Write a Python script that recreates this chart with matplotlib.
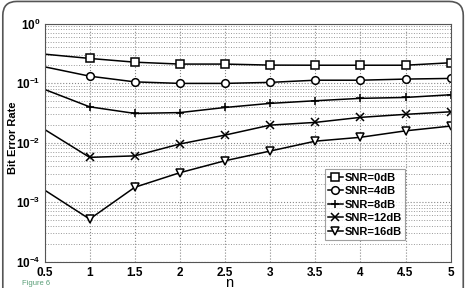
import matplotlib
matplotlib.use("Agg")
import matplotlib.pyplot as plt
from matplotlib.patches import FancyBboxPatch
from matplotlib.ticker import LogLocator, FixedLocator, NullFormatter, FuncFormatter
import math

n = [0.5, 1, 1.5, 2, 2.5, 3, 3.5, 4, 4.5, 5]
ber_0db = [0.307, 0.26, 0.225, 0.209, 0.209, 0.201, 0.200, 0.200, 0.200, 0.22]
ber_4db = [0.188, 0.131, 0.105, 0.099, 0.099, 0.103, 0.112, 0.112, 0.117, 0.120]
ber_8db = [0.0785, 0.040, 0.031, 0.032, 0.039, 0.0457, 0.0506, 0.0555, 0.0575, 0.0638]
ber_12db = [0.0167, 0.00566, 0.0060, 0.0095, 0.0134, 0.0197, 0.0219, 0.0266, 0.0299, 0.033]
ber_16db = [0.0016, 0.00052, 0.00178, 0.00313, 0.00497, 0.00723, 0.0106, 0.0123, 0.0158, 0.019]
labels = ["SNR=0dB", "SNR=4dB", "SNR=8dB", "SNR=12dB", "SNR=16dB"]
markers = ["s", "o", "+", "x", "v"]
xticks = [0.5, 1, 1.5, 2, 2.5, 3, 3.5, 4, 4.5, 5]

plt.rcParams['font.family'] = ['Liberation Sans', 'DejaVu Sans']
plt.rcParams['mathtext.fontset'] = 'custom'
plt.rcParams['mathtext.rm'] = 'Liberation Sans'
plt.rcParams['mathtext.bf'] = 'Liberation Sans:bold'

fig = plt.figure(figsize=(4.67, 2.88), dpi=100)
frame = FancyBboxPatch((0.006, -0.05), 0.986, 1.045, boxstyle="round,pad=0,rounding_size=0.03",
                       transform=fig.transFigure, fill=False, edgecolor="#555555", linewidth=1.2,
                       mutation_aspect=467/288)
fig.patches.append(frame)

ax = fig.add_axes([0.0953, 0.0913, 0.8697, 0.8267])
series = [ber_0db, ber_4db, ber_8db, ber_12db, ber_16db]
for ys, lab, mk in zip(series, labels, markers):
    ax.plot(n, ys, color="black", linewidth=1.1, marker=mk, markersize=5.5,
            markerfacecolor="white", markeredgecolor="black", markeredgewidth=1.1,
            markevery=list(range(1, len(n))), label=lab)

ax.set_yscale("log")
ax.set_ylim(1e-4, 1)
ax.set_xlim(0.5, 5)
ax.xaxis.set_major_locator(FixedLocator(xticks))
ax.set_xticklabels([("%g" % v) for v in xticks])
ax.yaxis.set_major_locator(LogLocator(base=10, numticks=10))
ax.yaxis.set_major_formatter(FuncFormatter(
    lambda v, p: r"$\mathbf{10^{%d}}$" % int(round(math.log10(v)))))
ax.yaxis.set_minor_locator(LogLocator(base=10, subs=range(2, 10), numticks=10))
ax.yaxis.set_minor_formatter(NullFormatter())
ax.grid(True, which="major", color="#888888", linestyle=":", linewidth=0.8)
ax.grid(True, which="minor", axis="y", color="#999999", linestyle=":", linewidth=0.7)
ax.tick_params(which="both", direction="in", length=0)
ax.tick_params(axis="y", pad=3)
ax.tick_params(axis="x", pad=3.5)
for lab in ax.get_xticklabels() + ax.get_yticklabels():
    lab.set_fontweight("bold")
    lab.set_fontsize(8.5)
for s in ax.spines.values():
    s.set_color("#555555")
    s.set_linewidth(0.8)

fig.text(0.491, 0.004, "n", fontsize=10.5, ha="center", va="baseline")
fig.text(0.028, 0.52, "Bit Error Rate", fontsize=8, fontweight="bold", rotation=90,
         ha="center", va="center")

leg = ax.legend(loc="lower left", bbox_to_anchor=(0.69, 0.09), frameon=True, fancybox=False,
                edgecolor="#888888", prop={"weight": "bold", "size": 8},
                handlelength=1.3, handletextpad=0.2, borderpad=0.3, labelspacing=0.32,
                borderaxespad=0)
leg.get_frame().set_linewidth(0.8)

fig.text(0.047, 0.005, "Figure 6", color="#5a9e78", fontsize=5.5, ha="left", va="bottom")

fig.savefig("out.png", dpi=100)
